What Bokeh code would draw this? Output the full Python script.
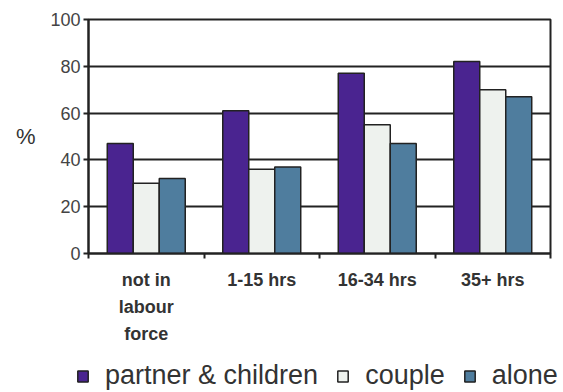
from bokeh.plotting import figure
from bokeh.models import ColumnDataSource, FixedTicker, Legend, LegendItem, Range1d
from bokeh.layouts import column
from bokeh.transform import dodge
from bokeh.embed import file_html
from bokeh.resources import INLINE

# ---- data ----
categories = ["not in\nlabour\nforce", "1-15 hrs", "16-34 hrs", "35+ hrs"]
partner_children = [47, 61, 77, 82]
couple = [30, 36, 55, 70]
alone = [32, 37, 47, 67]
series_names = ["partner & children", "couple", "alone"]
y_ticks = [0, 20, 40, 60, 80, 100]

colors = ["#4a2490", "#eef2ee", "#4f7d9e"]
FONT = "Liberation Sans"

xpos = [i + 0.5 for i in range(len(categories))]
src = ColumnDataSource(dict(x=xpos, pc=partner_children, cp=couple, al=alone))

p = figure(width=563, height=350, output_backend="svg", toolbar_location=None,
           x_range=Range1d(0, 4), y_range=Range1d(0, 100),
           min_border_left=88, min_border_right=13, min_border_top=19,
           min_border_bottom=97, background_fill_color="white",
           border_fill_color="white")
p.frame_align = False

bw = 0.225
fields = ["pc", "cp", "al"]
offsets = [-0.225, 0.0, 0.225]
for f, off, c in zip(fields, offsets, colors):
    p.vbar(x=dodge("x", off), top=f, width=bw, source=src, fill_color=c,
           line_color="#222222", line_width=1.5)

# axes
p.xaxis.ticker = FixedTicker(ticks=xpos, minor_ticks=[0, 1, 2, 3, 4])
p.xaxis.major_label_overrides = {x: c for x, c in zip(xpos, categories)}
p.xaxis.major_tick_out = 0
p.xaxis.major_tick_in = 0
p.xaxis.minor_tick_out = 5
p.xaxis.minor_tick_in = 0
p.xaxis.minor_tick_line_color = "#222222"
p.xaxis.minor_tick_line_width = 2
p.xaxis.axis_line_color = "#222222"
p.xaxis.axis_line_width = 2
p.xaxis.major_label_text_font = FONT
p.xaxis.major_label_text_font_style = "bold"
p.xaxis.major_label_text_font_size = "18px"
p.xaxis.major_label_text_color = "#333333"
p.xaxis.major_label_text_line_height = 1.35
p.xaxis.major_label_standoff = 11

p.yaxis.ticker = FixedTicker(ticks=y_ticks)
p.yaxis.minor_tick_line_color = None
p.yaxis.major_tick_out = 5
p.yaxis.major_tick_in = 0
p.yaxis.major_tick_line_color = "#222222"
p.yaxis.major_tick_line_width = 2
p.yaxis.axis_line_color = "#222222"
p.yaxis.axis_line_width = 2
p.yaxis.major_label_text_font = FONT
p.yaxis.major_label_text_font_size = "18px"
p.yaxis.major_label_text_color = "#444444"
p.yaxis.major_label_standoff = 3
p.yaxis.axis_label = "%"
p.yaxis.axis_label_orientation = "horizontal"
p.yaxis.axis_label_text_font = FONT
p.yaxis.axis_label_text_font_style = "normal"
p.yaxis.axis_label_text_font_size = "22px"
p.yaxis.axis_label_text_color = "#333333"
p.yaxis.axis_label_standoff = 12

p.xgrid.grid_line_color = None
p.ygrid.ticker = FixedTicker(ticks=y_ticks[1:])
p.ygrid.grid_line_color = "#222222"
p.ygrid.grid_line_width = 2
p.outline_line_color = "#222222"
p.outline_line_width = 2

# ---- legend strip (separate figure; its renderers are hidden, only keys show) ----
lg = figure(width=563, height=42, output_backend="svg", toolbar_location=None,
            x_range=Range1d(0, 4), y_range=Range1d(0, 100),
            min_border_left=0, min_border_right=0, min_border_top=0,
            min_border_bottom=0, background_fill_color="white",
            border_fill_color="white", outline_line_color=None)
lg.frame_align = False
lg.axis.visible = False
lg.grid.visible = False
leg_renderers = []
for f, off, c in zip(fields, offsets, colors):
    r = lg.vbar(x=dodge("x", off), top=f, width=bw, source=src, fill_color=c,
                line_color="#222222", line_width=1.5)
    r.visible = False
    leg_renderers.append(r)

legend = Legend(items=[LegendItem(label=n, renderers=[r]) for n, r in zip(series_names, leg_renderers)],
                orientation="horizontal", location=(76, 1),
                label_text_font=FONT, label_text_font_size="27px",
                label_text_color="#333333", glyph_width=13, glyph_height=14,
                label_standoff=16, spacing=18, padding=0, margin=0,
                inactive_fill_alpha=0,
                border_line_color=None, background_fill_alpha=0)
lg.add_layout(legend, "center")

layout = column(p, lg, spacing=0)
open("out.html", "w").write(file_html(layout, INLINE))
